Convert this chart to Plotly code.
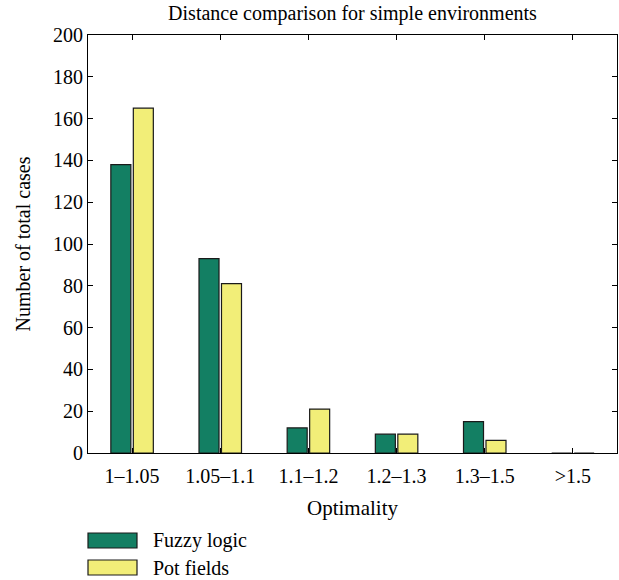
import plotly.graph_objects as go

categories = ["1\u20131.05", "1.05\u20131.1", "1.1\u20131.2", "1.2\u20131.3", "1.3\u20131.5", ">1.5"]
fuzzy_logic = [138, 93, 12, 9, 15, 0]
pot_fields = [165, 81, 21, 9, 6, 0]
y_ticks = list(range(0, 201, 20))

FONT = "Liberation Serif"
GREEN = "#137f63"
YELLOW = "#f2ee78"
EDGE = "#1a1a1a"

fig = go.Figure()
fig.add_trace(go.Bar(x=categories, y=fuzzy_logic, name="Fuzzy logic",
                     marker=dict(color=GREEN, line=dict(color=EDGE, width=1.2))))
fig.add_trace(go.Bar(x=categories, y=pot_fields, name="Pot fields",
                     marker=dict(color=YELLOW, line=dict(color=EDGE, width=1.2))))

axis_common = dict(showline=True, linecolor="black", linewidth=1.2, mirror="ticks",
                   ticks="inside", ticklen=5, tickcolor="black", showgrid=False,
                   zeroline=False, tickfont=dict(family=FONT, size=20, color="black"))

fig.update_layout(
    width=619, height=580,
    margin=dict(l=88, r=2, t=35, b=127),
    paper_bgcolor="white", plot_bgcolor="white",
    barmode="group", bargap=0.49, bargroupgap=0.11,
    showlegend=False,
    title=dict(text="Distance comparison for simple environments", x=0.5, xanchor="center",
               xref="paper", y=0.99, yanchor="top",
               font=dict(family=FONT, size=20, color="black")),
    xaxis=dict(range=[-0.5, 5.5], title=dict(text="Optimality", standoff=14,
               font=dict(family=FONT, size=21, color="black")), **axis_common),
    yaxis=dict(range=[0, 200], tickvals=y_ticks, title=dict(text="Number of total cases", standoff=16,
               font=dict(family=FONT, size=20, color="black")), **axis_common),
)
fig.update_xaxes(ticklabelstandoff=5)

# Legend patches drawn below the plot area
legend_items = [("Fuzzy logic", GREEN), ("Pot fields", YELLOW)]
for i, (label, color) in enumerate(legend_items):
    y_top = 533 + i * 27
    fig.add_shape(type="rect", xref="paper", yref="paper",
                  x0=0 / 529, x1=49 / 529,
                  y0=-(y_top + 15 - 453) / 418, y1=-(y_top - 453) / 418,
                  fillcolor=color, line=dict(color=EDGE, width=1.2))
    fig.add_annotation(text=label, xref="paper", yref="paper", showarrow=False,
                       x=63 / 529, xanchor="left", y=-(y_top + 7.5 - 453) / 418, yanchor="middle",
                       font=dict(family=FONT, size=20, color="black"))

fig.write_html("out.html")
